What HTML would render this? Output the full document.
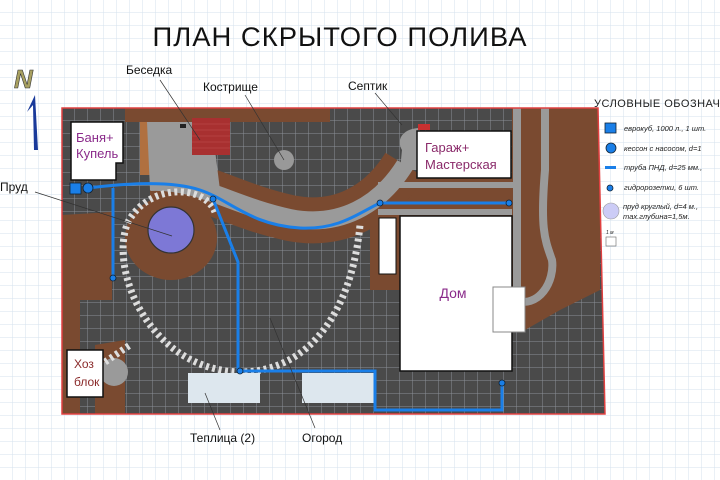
<!DOCTYPE html>
<html><head><meta charset="utf-8"><style>
html,body{margin:0;padding:0;background:#fff}
svg{display:block}
text{font-family:"Liberation Sans","DejaVu Sans",sans-serif}
</style></head><body>
<svg width="720" height="480" viewBox="0 0 720 480" xmlns="http://www.w3.org/2000/svg">
<defs>
<pattern id="bg" width="13" height="13" patternUnits="userSpaceOnUse">
<rect width="13" height="13" fill="#fff"/>
<path d="M13 0V13M0 13H13" stroke="#d4e2ee" stroke-width="1"/>
</pattern>
<pattern id="dk" width="13" height="13" patternUnits="userSpaceOnUse" x="62" y="108">
<rect width="13" height="13" fill="#4a4a4a"/>
<path d="M13 0V13M0 13H13" stroke="#8a8f96" stroke-width="1"/>
</pattern>
<clipPath id="plot"><polygon points="62,108 598,108 605,414 62,414"/></clipPath>
</defs>
<rect width="720" height="480" fill="url(#bg)"/>
<text x="340" y="46" text-anchor="middle" font-size="27" fill="#111" letter-spacing="1" font-family="DejaVu Sans" font-weight="normal" textLength="375" lengthAdjust="spacingAndGlyphs">ПЛАН СКРЫТОГО ПОЛИВА</text>
<!-- north -->
<text x="14" y="88" font-size="26" fill="#a8a060" font-family="Liberation Serif" font-style="italic" font-weight="bold" stroke="#333" stroke-width="0.6">N</text>
<path d="M35 95 L38 150 L34 150 L33 105 L27 112 Z" fill="#1a3a9a"/>
<!-- plot -->
<g clip-path="url(#plot)">
<rect x="62" y="108" width="545" height="310" fill="url(#dk)"/>
<!-- brown areas -->
<path d="M125 108 H330 V122 H125 Z" fill="#7a4a30"/>
<path d="M62 215 L112 212 L112 300 L80 300 L80 414 L62 414 Z" fill="#7a4a30"/>
<path d="M95 345 L125 340 L125 414 L95 414 Z" fill="#7a4a30"/>
<ellipse cx="171" cy="238" rx="46" ry="42" fill="#7a4a30"/>
<path d="M512 108 H600 V290 L560 310 L525 330 L512 300 Z" fill="#7a4a30"/>
<path d="M375 178 H515 V216 H375 Z" fill="#7a4a30"/>
<path d="M370 210 H400 V290 H370 Z" fill="#7a4a30"/>
<path d="M150 180 C200 180 230 205 290 218 C340 228 380 205 405 165" fill="none" stroke="#7a4a30" stroke-width="46"/>
<path d="M140 122 H160 V175 H140 Z" fill="#b07040"/>
<!-- gray paths -->
<path d="M147 122 H215 V150 L220 190 H150 Z" fill="#9a9a9a"/>
<path d="M150 182 C200 180 230 205 290 218 C340 228 380 205 405 165" fill="none" stroke="#9a9a9a" stroke-width="18"/>
<path d="M402 150 C395 138 405 128 420 128 L420 170 L400 170 Z" fill="#9a9a9a"/>
<path d="M517 108 V320 M512 300 C540 310 555 280 552 260 C545 240 540 230 545 170 L545 108" stroke="#9a9a9a" stroke-width="8" fill="none"/>
<path d="M378 185 H515 M378 212 H512" stroke="#9a9a9a" stroke-width="6" fill="none"/>
<circle cx="114" cy="372" r="14" fill="#9a9a9a"/>
<!-- red tiles -->
<rect x="192" y="118" width="38" height="37" fill="#a83030"/>
<path d="M192 124H230M192 130H230M192 136H230M192 142H230M192 148H230" stroke="#c05050" stroke-width="0.6"/>
<rect x="180" y="124" width="6" height="4" fill="#222"/>
<rect x="418" y="124" width="12" height="6" fill="#c83030"/>
<!-- pond -->
<circle cx="171" cy="230" r="23" fill="#7d78d6" stroke="#333" stroke-width="1.2"/>
<!-- stepping stones -->
<path d="M215 212 C205 185 150 182 128 222 C108 270 150 370 240 372 C310 372 352 310 360 225" fill="none" stroke="#ddd" stroke-width="7" stroke-dasharray="3 3.5"/>
<path d="M105 362 L130 345" fill="none" stroke="#ddd" stroke-width="7" stroke-dasharray="3 3.5"/>
<!-- kostrishche -->
<circle cx="284" cy="160" r="10" fill="#999"/>
</g>
<polygon points="62,108 598,108 605,414 62,414" fill="none" stroke="#e04040" stroke-width="1.5"/>
<!-- buildings -->
<path d="M71 122 H123 V163 H116 V180 H71 Z" fill="#fff" stroke="#111" stroke-width="1.5"/>
<text x="76" y="142" font-size="13" fill="#8a2a8a">Баня+</text>
<text x="76" y="158" font-size="13" fill="#8a2a8a">Купель</text>
<rect x="417" y="131" width="94" height="47" fill="#fff" stroke="#111" stroke-width="1.5"/>
<text x="425" y="152" font-size="13" fill="#8a2a6a">Гараж+</text>
<text x="425" y="169" font-size="13" fill="#8a2a6a">Мастерская</text>
<rect x="400" y="216" width="112" height="155" fill="#fff" stroke="#111" stroke-width="1.5"/>
<text x="453" y="298" text-anchor="middle" font-size="14" fill="#8a2a8a">Дом</text>
<rect x="379" y="218" width="17" height="56" fill="#fff" stroke="#111" stroke-width="1"/>
<rect x="493" y="287" width="32" height="45" fill="#fff" stroke="#888" stroke-width="1"/>
<rect x="67" y="350" width="36" height="47" fill="#fff" stroke="#111" stroke-width="1.5"/>
<text x="74" y="368" font-size="12" fill="#8a2a2a">Хоз</text>
<text x="74" y="386" font-size="12" fill="#8a2a2a">блок</text>
<rect x="188" y="373" width="72" height="30" fill="#dde7ee"/>
<rect x="302" y="373" width="73" height="30" fill="#dde7ee"/>
<!-- pipes -->
<g fill="none" stroke="#1a7fe8" stroke-width="3">
<path d="M88 188 C120 184 170 180 200 190 C230 200 250 225 300 228 C340 230 360 212 380 203 H509"/>
<path d="M113 188 V278"/>
<path d="M213 199 L238 262 V371 H375 V410 H502 V383"/>
</g>
<rect x="70" y="183" width="11" height="11" fill="#1a7fe8" stroke="#123" stroke-width="0.8"/>
<circle cx="88" cy="188" r="5" fill="#1a7fe8" stroke="#123" stroke-width="0.8"/>
<g fill="#1a7fe8" stroke="#123" stroke-width="0.8">
<circle cx="113" cy="278" r="3"/><circle cx="213" cy="199" r="3"/><circle cx="380" cy="203" r="3"/>
<circle cx="509" cy="203" r="3"/><circle cx="240" cy="371" r="3"/><circle cx="502" cy="383" r="3"/>
</g>
<!-- leaders -->
<g stroke="#333" stroke-width="0.7" fill="none">
<path d="M160 80 L200 140"/><path d="M245 95 L284 160"/><path d="M375 93 L402 125"/>
<path d="M35 192 L172 236"/><path d="M220 430 L205 393"/><path d="M315 428 L270 318"/>
</g>
<g font-size="12" fill="#111" font-family="DejaVu Sans">
<text x="126" y="74">Беседка</text>
<text x="203" y="91">Кострище</text>
<text x="348" y="90">Септик</text>
<text x="0" y="191">Пруд</text>
<text x="190" y="442">Теплица (2)</text>
<text x="302" y="442">Огород</text>
</g>
<!-- legend -->
<text x="594" y="107" font-size="11" fill="#222" font-family="DejaVu Sans" letter-spacing="0.5">УСЛОВНЫЕ ОБОЗНАЧ</text>
<rect x="605" y="123" width="11" height="10" fill="#1a7fe8" stroke="#123" stroke-width="0.8"/>
<circle cx="611" cy="148" r="5" fill="#1a7fe8" stroke="#123" stroke-width="0.8"/>
<rect x="605" y="166" width="11" height="3" fill="#1a7fe8"/>
<circle cx="610" cy="188" r="3" fill="#1a7fe8" stroke="#123" stroke-width="0.8"/>
<circle cx="611" cy="211" r="8" fill="#ccccf6" stroke="#999" stroke-width="0.6"/>
<rect x="606" y="237" width="10" height="9" fill="#fff" stroke="#666" stroke-width="0.6"/>
<g font-size="7.5" fill="#222" font-style="italic">
<text x="624" y="131">еврокуб, 1000 л., 1 шт.</text>
<text x="624" y="151">кессон с насосом, d=1</text>
<text x="624" y="170">труба ПНД, d=25 мм.,</text>
<text x="624" y="190">гидророзетки, 6 шт.</text>
<text x="623" y="209">пруд круглый, d=4 м.,</text>
<text x="623" y="219">max.глубина=1,5м.</text>
<text x="606" y="234" font-size="5">1 м</text>
</g>
</svg>
</body></html>
